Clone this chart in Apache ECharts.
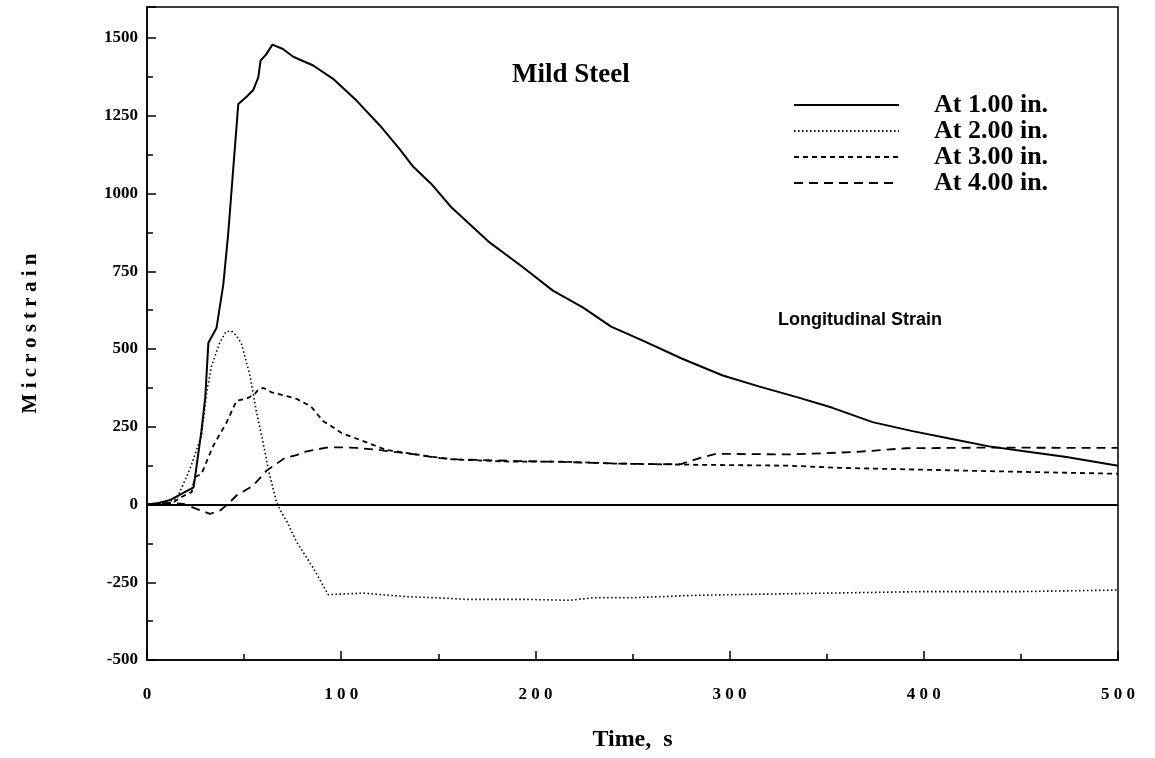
<!DOCTYPE html>
<html lang="en">
<head>
    <meta charset="UTF-8">
    <title>Longitudinal Strain - Mild Steel</title>
    <script type="text/javascript" src="https://cdn.jsdelivr.net/npm/echarts@6/dist/echarts.min.js"></script>
    <style>
        html, body { margin: 0; padding: 0; background: #fff; }
    </style>
</head>
<body>
<div id="chart" style="width: 1155px;height:758px;"></div>
<script>
    // readings taken off the plot (time in s, strain in microstrain)
    var names = ['At 1.00 in.', 'At 2.00 in.', 'At 3.00 in.', 'At 4.00 in.'];

    var t1 = [0, 6, 12, 18, 24, 28, 30, 31.6, 35.8, 39.3, 41.8, 47, 51, 54.7, 57.3, 58.5, 61.2, 64.6, 70, 75.3, 85.6, 95.8, 107.9, 119.9, 130, 137, 146.4, 156.7, 176.4, 193.6, 209, 224.4, 239, 255.3, 275.9, 296.5, 315, 336, 353, 373.6, 394.2, 413.2, 433.6, 450.8, 473.5, 500];
    var s1 = [0, 5, 15, 35, 55, 235, 345, 520, 568, 708, 870, 1288, 1310, 1333, 1374, 1428, 1446, 1479, 1465, 1440, 1412, 1369, 1299, 1219, 1144, 1087, 1031, 956, 843, 763, 688, 634, 572, 527, 468, 415, 380, 343, 311, 265, 236, 212, 187, 172, 153, 125];

    var t2 = [0, 8, 15.3, 22.1, 28.1, 30.7, 33.3, 37.6, 40.6, 43.5, 46.1, 48.7, 53, 56.4, 59.8, 62.4, 66.7, 70.1, 72, 77, 85.6, 93.3, 100, 111.3, 125, 135.3, 150, 164.5, 195.3, 217.6, 229.6, 248.5, 282.8, 300, 350, 400, 450, 500];
    var s2 = [0, 3, 18, 114, 222, 361, 447, 522, 556, 558, 543, 516, 415, 297, 200, 114, 7, -35, -54, -120, -204, -290, -288, -285, -292, -297, -300, -305, -305, -308, -300, -300, -292, -290, -285, -280, -280, -275];

    var t3 = [0, 8, 13.5, 18, 23, 24.7, 28.1, 34.1, 41, 46.1, 51.3, 55.6, 57.3, 60, 64.1, 68.4, 77, 84.5, 90.7, 94, 100.2, 113, 123, 133.5, 145, 157.6, 186.7, 214, 240, 257, 280, 330, 356.5, 399.3, 450.8, 500];
    var s3 = [0, 3, 7, 25, 40, 88, 99, 189, 264, 334, 340, 356, 370, 375, 361, 354, 340, 315, 268, 256, 230, 200, 176, 166, 155, 145, 138, 138, 132, 130, 128, 125, 118, 112, 105, 99];

    var t4 = [0, 11.8, 18.7, 25.5, 32.4, 37.6, 41.8, 46.1, 54.7, 61.6, 66.7, 71, 77, 82.2, 92.4, 100, 107.9, 119.9, 137, 151, 160, 190, 214, 240, 260, 275, 285, 293, 330.8, 365, 390.8, 433.6, 500];
    var s4 = [0, 5, 2, -14, -30, -19, 2, 29, 61, 109, 131, 150, 159, 171, 183, 184, 182, 175, 162, 149, 145, 140, 137, 132, 130, 130, 150, 163, 161, 169, 181, 183, 182];

    var xTicks = [0, 100, 200, 300, 400, 500];
    var yTicks = [-500, -250, 0, 250, 500, 750, 1000, 1250, 1500];

    function pairs(t, s) {
        var out = [];
        for (var i = 0; i < t.length; i++) {
            out.push([t[i], s[i]]);
        }
        return out;
    }

    var serif = '"Liberation Serif", "DejaVu Serif", serif';
    var dashes = ['solid', [1.5, 2.5], [5, 4], [9, 6]];
    var widths = [2, 1.6, 1.8, 1.8];
    var tables = [[t1, s1], [t2, s2], [t3, s3], [t4, s4]];

    var series = [];
    for (var k = 0; k < names.length; k++) {
        series.push({
            name: names[k],
            type: 'line',
            symbol: 'none',
            animation: false,
            itemStyle: { color: '#000' },
            lineStyle: { color: '#000', width: widths[k], type: dashes[k] },
            data: pairs(tables[k][0], tables[k][1])
        });
    }
    // zero reference line
    series[0].markLine = {
        silent: true,
        symbol: 'none',
        label: { show: false },
        lineStyle: { color: '#000', width: 2, type: 'solid' },
        data: [{ yAxis: 0 }]
    };

    var option = {
        backgroundColor: '#fff',
        animation: false,
        grid: {
            left: 147, right: 37, top: 7, bottom: 98,
            show: true, borderColor: '#000', borderWidth: 1.5
        },
        legend: {
            orient: 'vertical',
            left: 788,
            top: 87,
            itemWidth: 105,
            itemHeight: 14,
            itemGap: 0,
            itemStyle: { opacity: 0 },
            textStyle: {
                fontFamily: serif, fontWeight: 'bold', fontSize: 26,
                color: '#000', lineHeight: 26, padding: [0, 0, 0, 30]
            },
            data: names
        },
        xAxis: {
            type: 'value',
            min: xTicks[0],
            max: xTicks[xTicks.length - 1],
            interval: 100,
            name: 'Time,  s',
            nameLocation: 'middle',
            nameGap: 68,
            nameTextStyle: { fontFamily: serif, fontWeight: 'bold', fontSize: 24, color: '#000' },
            axisLine: { onZero: false, lineStyle: { color: '#000', width: 1.5 } },
            axisTick: { inside: true, length: 9, lineStyle: { color: '#000', width: 1.5 } },
            minorTick: { show: true, splitNumber: 2, length: 6, lineStyle: { color: '#000', width: 1.5 } },
            splitLine: { show: false },
            axisLabel: {
                margin: 26,
                fontFamily: serif, fontWeight: 'bold', fontSize: 17, color: '#000',
                formatter: function (v) { return String(v).split('').join(' '); }
            }
        },
        yAxis: {
            type: 'value',
            min: yTicks[0],
            max: 1600,
            interval: 250,
            name: 'M i c r o s t r a i n',
            nameLocation: 'middle',
            nameRotate: 90,
            nameGap: 106,
            nameTextStyle: { fontFamily: serif, fontWeight: 'bold', fontSize: 21, color: '#000' },
            axisLine: { show: true, onZero: false, lineStyle: { color: '#000', width: 1.5 } },
            axisTick: { inside: true, length: 9, lineStyle: { color: '#000', width: 1.5 } },
            minorTick: { show: true, splitNumber: 2, length: 6, lineStyle: { color: '#000', width: 1.5 } },
            splitLine: { show: false },
            axisLabel: {
                margin: 9, showMaxLabel: false,
                fontFamily: serif, fontWeight: 'bold', fontSize: 17, color: '#000',
                formatter: function (v) { return yTicks.indexOf(v) >= 0 ? String(v) : ''; }
            }
        },
        graphic: [
            {
                type: 'text', left: 512, top: 62,
                style: { text: 'Mild Steel', fontFamily: serif, fontWeight: 'bold', fontSize: 27, fill: '#000' }
            },
            {
                type: 'text', left: 778, top: 311,
                style: { text: 'Longitudinal Strain', fontFamily: '"Liberation Sans", Arial, sans-serif', fontWeight: 'bold', fontSize: 18, fill: '#000' }
            }
        ],
        series: series
    };

    var myChart = echarts.init(document.getElementById('chart'));
    myChart.setOption(option);
</script>
</body>
</html>
